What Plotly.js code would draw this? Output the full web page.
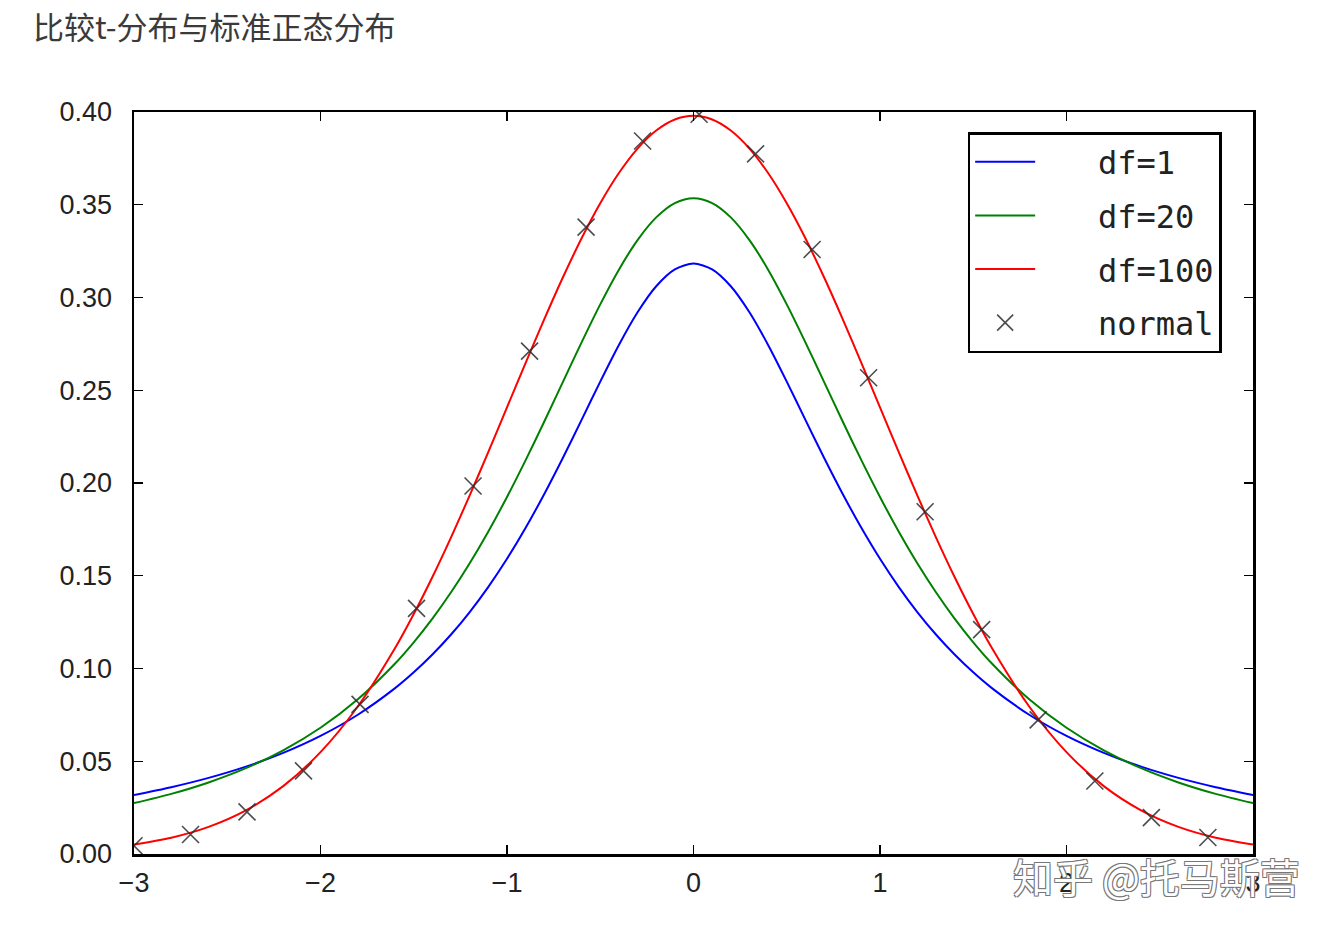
<!DOCTYPE html>
<html>
<head>
<meta charset="utf-8">
<script src="https://cdn.plot.ly/plotly-3.0.1.min.js"></script>
<style>html,body{margin:0;padding:0;background:#fff;}#chart{width:1338px;height:933px;}</style>
</head>
<body>
<div id="chart"></div>
<script>
// Curve sample positions
const xCurve = [-3.0,-2.8,-2.6,-2.4,-2.2,-2.0,-1.8,-1.6,-1.5,-1.4,-1.3,-1.2,-1.1,-1.0,-0.9,-0.8,-0.7,-0.6,-0.5,-0.4,-0.3,-0.2,-0.1,0.0,
                 0.1,0.2,0.3,0.4,0.5,0.6,0.7,0.8,0.9,1.0,1.1,1.2,1.3,1.4,1.5,1.6,1.8,2.0,2.2,2.4,2.6,2.8,3.0];
// df=1 curve (blue)
const yDf1 = [0.03183,0.03601,0.04102,0.04709,0.05451,0.06366,0.07507,0.08941,0.09794,0.10754,0.11833,0.13045,0.14403,0.15915,0.17586,0.19409,0.21363,0.23405,0.25465,0.27441,0.29203,0.30607,0.31516,0.31831,
              0.31516,0.30607,0.29203,0.27441,0.25465,0.23405,0.21363,0.19409,0.17586,0.15915,0.14403,0.13045,0.11833,0.10754,0.09794,0.08941,0.07507,0.06366,0.05451,0.04709,0.04102,0.03601,0.03183];
// df=20 curve (green, as drawn)
const yDf20 = [0.02741,0.03240,0.03857,0.04626,0.05590,0.06804,0.08337,0.10270,0.11414,0.12690,0.14108,0.15673,0.17388,0.19245,0.21230,0.23313,0.25451,0.27582,0.29630,0.31501,0.33096,0.34320,0.35092,0.35355,
               0.35092,0.34320,0.33096,0.31501,0.29630,0.27582,0.25451,0.23313,0.21230,0.19245,0.17388,0.15673,0.14108,0.12690,0.11414,0.10270,0.08337,0.06804,0.05590,0.04626,0.03857,0.03240,0.02741];
// df=100 curve (red)
const yDf100 = [0.00513,0.00880,0.01463,0.02353,0.03658,0.05491,0.07953,0.11103,0.12937,0.14932,0.17072,0.19331,0.21679,0.24077,0.26479,0.28834,0.31090,0.33191,0.35080,0.36709,0.38028,0.38999,0.39595,0.39795,
                0.39595,0.38999,0.38028,0.36709,0.35080,0.33191,0.31090,0.28834,0.26479,0.24077,0.21679,0.19331,0.17072,0.14932,0.12937,0.11103,0.07953,0.05491,0.03658,0.02353,0.01463,0.00880,0.00513];
// normal markers
const xNormal = [-3.000,-2.697,-2.394,-2.091,-1.788,-1.485,-1.182,-0.879,-0.576,-0.273,0.030,0.333,0.636,0.939,1.242,1.545,1.848,2.152,2.455,2.758];
const yNormal = [0.00443,0.01051,0.02272,0.04482,0.08067,0.13245,0.19839,0.27111,0.33796,0.38435,0.39876,0.37742,0.32589,0.25671,0.18448,0.12094,0.07233,0.03938,0.01960,0.00890];

const seriesNames = ['df=1','df=20','df=100','normal'];
const seriesColors = ['#0000ff','#008000','#ff0000','#3a3a3a'];
const xTicks = [-3,-2,-1,0,1,2,3];
const yTicks = [0.00,0.05,0.10,0.15,0.20,0.25,0.30,0.35,0.40];

const pad = '\u00a0\u00a0\u00a0';
const curveY = [yDf1, yDf20, yDf100];
const traces = curveY.map((ys, i) => ({
  x:xCurve, y:ys, name:pad + seriesNames[i], legendgroup:'g'+i, mode:'lines',
  line:{color:seriesColors[i], width:2, shape:'spline', smoothing:0.8}
}));
traces.push({x:xNormal, y:yNormal, name:pad + seriesNames[3], legendgroup:'g3', mode:'markers',
   marker:{symbol:'x-thin', size:17, color:seriesColors[3], line:{color:'rgba(45,45,45,0.85)', width:1.6}}});

const axisCommon = {
  showgrid:false, zeroline:false, showline:true, linecolor:'#000', linewidth:2.5, mirror:'ticks',
  ticks:'inside', ticklen:9, tickwidth:1.2, tickcolor:'#000',
  tickfont:{family:'Liberation Sans, Arial, sans-serif', size:27, color:'#222'}
};

const layout = {
  width:1338, height:933,
  paper_bgcolor:'#fff', plot_bgcolor:'#fff',
  margin:{l:134, r:85, t:112, b:79},
  title:{text:'比较t-分布与标准正态分布', x:33/1338, xref:'container', xanchor:'left',
         y:1-17/933, yref:'container', yanchor:'top',
         font:{family:'Noto Sans CJK SC', size:31, color:'#3a3a3a'}},
  xaxis:Object.assign({}, axisCommon, {range:[-3,3], tickvals:xTicks, ticklabelstandoff:3}),
  yaxis:Object.assign({}, axisCommon, {range:[0,0.40], tickvals:yTicks, tickformat:'.2f', ticklabelstandoff:14}),
  showlegend:true,
  legend:{x:0.745, y:0.973, xanchor:'left', yanchor:'top', bgcolor:'#fff', bordercolor:'#000', borderwidth:2.5,
          traceorder:'grouped', tracegroupgap:9,
          font:{family:'DejaVu Sans Mono, monospace', size:32, color:'#222'}, itemwidth:60},
  annotations:[
    {text:'知乎 @托马斯营', xref:'paper', yref:'paper', x:1.044, y:0.012, xanchor:'right', yanchor:'top', showarrow:false,
     font:{family:'Noto Sans CJK SC', size:40, color:'#ffffff', shadow:'-1px -1px 0 #777, 1px 1px 0 #777, 1px -1px 0 #777, -1px 1px 0 #777'}}
  ]
};

Plotly.newPlot('chart', traces, layout, {displayModeBar:false, staticPlot:true});
</script>
</body>
</html>
